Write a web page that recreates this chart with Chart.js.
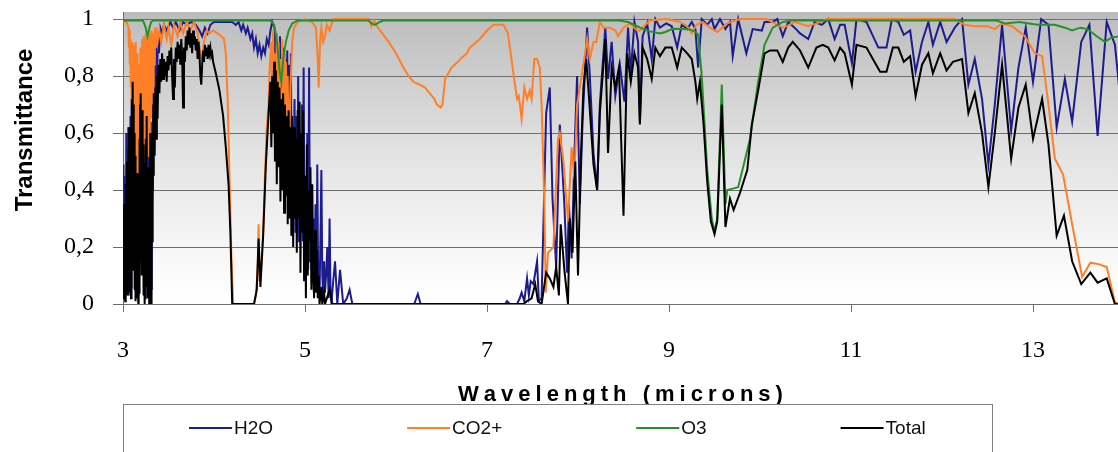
<!DOCTYPE html>
<html>
<head>
<meta charset="utf-8">
<script src="https://cdn.jsdelivr.net/npm/chart.js@4.4.0/dist/chart.umd.min.js"></script>
<style>
  html, body { margin: 0; padding: 0; background: #fff; }
  #wrap { width: 1118px; height: 452px; position: relative; }
</style>
</head>
<body>
<div id="wrap"><canvas id="myChart"></canvas></div>
<script>
// Data (wavelength in microns, transmittance 0..1)

var h2oWl = [
  3.000,3.004,3.008,3.012,3.018,3.024,3.030,3.036,3.042,3.048,
  3.054,3.058,3.064,3.070,3.076,3.082,3.088,3.094,3.100,3.106,
  3.112,3.118,3.124,3.130,3.136,3.142,3.148,3.154,3.160,3.166,
  3.172,3.178,3.184,3.190,3.196,3.202,3.208,3.214,3.220,3.226,
  3.232,3.238,3.244,3.250,3.256,3.262,3.268,3.274,3.280,3.286,
  3.292,3.298,3.304,3.310,3.316,3.322,3.328,3.334,3.340,3.346,
  3.355,3.365,3.375,3.385,3.395,
  3.41,3.43,3.45,3.48,3.52,3.55,3.58,3.62,3.66,3.70,
  3.75,3.80,3.84,3.87,3.90,3.93,3.96,4.00,4.10,4.20,
  4.24,4.27,4.30,4.32,4.35,4.37,4.40,4.42,4.44,4.46,
  4.48,4.50,4.52,4.54,4.56,4.58,4.60,4.62,4.64,
  4.665,4.675,4.685,4.695,4.705,4.715,4.725,4.735,4.745,4.755,
  4.765,4.775,4.785,4.795,4.805,4.815,4.825,4.835,4.845,4.855,
  4.865,4.875,4.885,4.895,4.905,4.915,4.925,4.935,4.945,4.955,
  4.965,4.975,4.985,4.995,5.005,5.015,5.025,5.035,5.045,5.055,
  5.065,5.075,5.085,5.095,5.105,5.115,5.125,5.135,5.145,5.16,
  5.17,5.18,5.19,5.20,5.21,5.22,5.235,5.245,5.26,5.27,
  5.28,5.29,
  5.31,5.33,5.355,5.385,5.42,5.46,5.49,5.52,6.20,6.24,
  6.27,7.20,7.22,
  7.25,7.33,7.36,7.38,7.41,7.44,7.46,7.48,7.51,7.55,
  7.57,7.60,7.65,7.69,7.72,7.76,7.80,7.85,7.88,7.90,
  7.93,7.96,7.99,8.02,8.05,8.10,8.13,8.17,8.21,8.24,
  8.30,8.33,8.37,8.41,8.46,8.51,8.55,8.58,8.62,8.66,
  8.68,8.71,8.76,8.81,8.85,8.90,8.97,9.03,9.09,9.14,
  9.20,9.25,9.29,9.32,9.36,9.42,9.47,9.50,9.56,9.62,
  9.67,9.70,9.76,9.85,9.92,10.02,10.05,10.14,10.19,10.25,
  10.31,10.38,10.44,10.53,10.60,10.68,10.75,10.82,10.88,10.93,
  11.01,11.06,11.17,11.30,11.39,11.45,11.52,11.58,11.65,11.71,
  11.78,11.85,11.90,11.98,12.05,12.14,12.22,12.29,12.36,12.44,
  12.51,12.58,12.66,12.76,12.84,12.92,13.00,13.09,13.17,13.26,
  13.35,13.43,13.53,13.62,13.71,13.81,13.90,13.95
];
var h2oT = [
  0.05,0.49,0.04,0.38,0.02,0.45,0.08,0.60,0.05,0.52,
  0.10,0.62,0.03,0.55,0.12,0.66,0.06,0.72,0.22,0.76,
  0.15,0.84,0.30,0.80,0.05,0.62,0.02,0.50,0.10,0.45,
  0.03,0.66,0.20,0.78,0.35,0.72,0.12,0.70,0.20,0.60,
  0.05,0.62,0.02,0.64,0.18,0.70,0.08,0.55,0.12,0.48,
  0.02,0.64,0.20,0.50,0.05,0.60,0.40,0.75,0.55,0.85,
  0.65,0.90,0.80,0.94,0.88,
  0.97,0.95,0.98,0.96,0.99,0.97,0.99,0.96,0.99,0.98,
  0.99,0.98,0.96,0.94,0.97,0.95,0.98,0.99,0.99,0.99,
  0.98,0.99,0.96,0.98,0.95,0.97,0.93,0.95,0.90,0.93,
  0.88,0.91,0.87,0.90,0.88,0.93,0.91,0.96,0.99,
  0.97,0.75,0.95,0.62,0.90,0.58,0.94,0.48,0.88,0.60,
  0.90,0.45,0.86,0.56,0.89,0.38,0.84,0.35,0.88,0.30,
  0.60,0.41,0.72,0.25,0.66,0.30,0.80,0.22,0.55,0.30,
  0.70,0.22,0.83,0.17,0.45,0.10,0.60,0.12,0.83,0.15,
  0.38,0.08,0.12,0.30,0.04,0.35,0.05,0.49,0.08,0.02,
  0.25,0.47,0.10,0.03,0.15,0.04,0.12,0.20,0.02,0.30,
  0.05,0.00,
  0.08,0.15,0.00,0.12,0.00,0.02,0.05,0.00,0.00,0.035,
  0.00,0.00,0.01,
  0.00,0.00,0.02,0.04,0.01,0.09,0.03,0.08,0.07,0.15,
  0.01,0.02,0.67,0.76,0.37,0.13,0.63,0.35,0.11,0.35,
  0.16,0.52,0.80,0.35,0.64,0.97,0.80,0.53,0.40,0.70,
  0.97,0.79,0.92,0.73,0.84,0.71,0.97,0.81,0.99,0.92,
  0.64,0.94,0.985,0.86,1.0,0.97,0.985,0.975,0.90,0.98,
  0.965,0.99,0.965,0.83,1.0,0.98,1.0,0.965,1.0,0.965,
  0.99,0.87,1.0,0.88,0.965,0.96,0.99,0.99,1.0,0.94,
  0.99,0.97,0.95,0.93,0.99,0.98,1.0,0.93,0.98,0.98,
  0.845,1.0,0.99,0.90,0.90,1.0,0.99,0.945,0.96,0.815,
  0.92,0.99,0.91,0.99,0.92,0.97,1.0,0.77,0.86,0.72,
  0.49,0.70,0.98,0.61,0.83,0.97,0.78,1.0,0.98,0.62,
  0.79,0.64,0.92,0.98,0.59,0.99,0.91,0.75
];

var co2Wl = [
  3.00,3.04,3.060,3.065,3.070,3.075,3.080,3.085,3.090,3.095,
  3.100,3.105,3.110,3.115,3.120,3.125,3.130,3.135,3.140,3.145,
  3.150,3.155,3.160,3.165,3.170,3.175,3.180,3.185,3.190,3.195,
  3.200,3.205,3.210,3.215,3.220,3.225,3.230,3.235,3.240,3.245,
  3.250,3.255,3.260,3.265,3.270,3.275,3.280,3.285,3.290,3.295,
  3.300,3.305,3.310,3.315,3.320,3.325,3.330,3.335,3.340,3.345,
  3.350,3.360,3.370,3.380,
  3.40,3.42,3.45,3.48,3.50,3.53,
  3.56,3.60,3.63,3.66,3.70,3.74,3.78,3.82,3.85,3.87,
  3.89,3.92,3.95,3.99,4.04,4.08,4.11,4.13,4.15,4.17,
  4.19,4.21,4.44,4.46,4.48,4.49,4.50,4.52,4.54,4.56,
  4.58,4.60,4.61,4.63,4.64,4.65,4.66,4.67,4.68,4.69,
  4.70,4.71,4.72,4.73,4.74,4.75,4.76,4.77,4.78,4.79,
  4.80,4.81,4.82,4.83,4.84,4.86,4.88,4.92,5.00,5.08,
  5.12,5.14,5.15,5.165,5.18,5.20,5.22,5.24,5.27,5.31,
  5.70,5.73,5.76,5.80,5.85,5.93,6.00,6.08,6.14,6.19,
  6.26,6.32,6.37,6.42,6.45,6.49,6.51,6.54,6.61,6.68,
  6.74,6.78,6.81,6.85,6.92,7.00,7.07,7.18,7.23,7.29,
  7.33,7.35,7.38,7.41,7.44,7.47,7.49,7.52,7.55,7.58,
  7.60,7.63,7.645,7.67,7.73,7.78,7.80,7.84,7.89,7.93,
  7.96,7.99,8.04,8.08,8.10,8.13,8.17,8.20,8.24,8.28,
  8.35,8.41,8.44,8.50,8.57,8.65,8.68,8.79,8.97,9.12,
  9.20,9.25,9.30,9.37,9.45,9.53,9.64,9.78,10.07,10.16,
  10.25,10.30,10.38,10.53,10.62,10.74,12.14,12.25,12.36,12.50,
  12.58,12.66,12.77,12.91,13.02,13.10,13.17,13.24,13.33,13.43,
  13.54,13.63,13.72,13.81,13.90,13.95
];
var co2T = [
  0.99,0.99,0.97,0.90,0.96,0.84,0.93,0.76,0.90,0.70,
  0.92,0.64,0.88,0.58,0.91,0.52,0.86,0.45,0.92,0.55,
  0.85,0.40,0.88,0.36,0.80,0.30,0.84,0.42,0.90,0.35,
  0.82,0.48,0.93,0.44,0.88,0.55,0.94,0.50,0.86,0.62,
  0.95,0.48,0.90,0.58,0.93,0.52,0.88,0.66,0.95,0.60,
  0.90,0.72,0.96,0.65,0.92,0.78,0.95,0.70,0.90,0.84,
  0.97,0.90,0.97,0.92,
  0.96,0.92,0.98,0.93,0.97,0.91,
  0.98,0.94,0.99,0.95,0.99,0.96,0.99,0.95,0.88,0.86,
  0.92,0.96,0.95,0.96,0.95,0.94,0.93,0.88,0.72,0.45,
  0.18,0.00,0.00,0.03,0.12,0.28,0.08,0.14,0.25,0.45,
  0.62,0.70,0.82,0.92,0.70,0.96,0.62,0.88,0.70,0.95,
  0.64,0.92,0.57,0.86,0.68,0.93,0.60,0.88,0.58,0.85,
  0.64,0.80,0.55,0.60,0.76,0.92,0.97,0.99,1.00,0.99,
  0.97,0.86,0.76,0.92,0.97,0.92,0.94,0.98,0.96,1.00,
  1.00,0.975,0.995,0.97,0.95,0.915,0.88,0.83,0.80,0.78,
  0.77,0.76,0.74,0.72,0.70,0.69,0.70,0.79,0.83,0.85,
  0.87,0.88,0.90,0.91,0.93,0.96,0.98,0.98,0.95,0.81,
  0.72,0.73,0.65,0.76,0.72,0.75,0.72,0.86,0.86,0.83,
  0.70,0.36,0.04,0.18,0.20,0.58,0.60,0.50,0.29,0.55,
  0.44,0.70,0.80,0.885,0.93,0.86,0.92,0.92,0.99,0.97,
  0.97,0.96,0.94,0.97,0.985,0.96,0.96,0.995,1.00,0.99,
  0.975,0.95,0.98,0.99,0.97,0.955,0.985,1.00,1.00,0.985,
  0.97,0.976,0.99,0.975,0.985,1.00,1.00,0.98,0.975,0.975,
  0.965,0.985,0.975,0.94,0.88,0.87,0.70,0.51,0.455,0.28,
  0.095,0.145,0.14,0.13,0.005,0.0
];

var o3Wl = [
  3.00,3.22,3.25,3.27,3.29,3.31,3.33,4.62,4.66,4.69,
  4.72,4.74,4.76,4.79,4.82,4.86,4.92,5.70,5.73,5.77,
  5.82,5.86,8.45,8.55,8.65,8.72,8.79,8.90,8.96,9.04,
  9.15,9.23,9.29,9.32,9.36,9.42,9.47,9.50,9.53,9.58,
  9.62,9.64,9.70,9.76,9.83,9.89,9.97,10.05,10.14,10.25,
  10.35,12.60,12.69,12.85,13.05,13.24,13.35,13.43,13.52,13.60,
  13.70,13.79,13.86,13.95
];
var o3T = [
  0.995,0.995,0.97,0.94,0.97,0.99,0.995,0.995,0.98,0.93,
  0.82,0.78,0.86,0.92,0.96,0.985,0.995,0.995,0.985,0.98,
  0.99,0.995,0.995,0.99,0.975,0.965,0.957,0.95,0.955,0.966,
  0.965,0.964,0.955,0.945,0.80,0.47,0.30,0.255,0.30,0.77,
  0.35,0.40,0.405,0.41,0.50,0.58,0.76,0.91,0.97,0.99,
  0.995,0.995,0.985,0.99,0.98,0.98,0.97,0.96,0.97,0.965,
  0.94,0.92,0.935,0.94
];

var totWl = [
  3.000,3.004,3.008,3.012,3.016,3.020,3.024,3.028,3.032,3.036,
  3.040,3.044,3.048,3.052,3.056,3.060,3.064,3.068,3.072,3.076,
  3.080,3.084,3.088,3.092,3.096,3.100,3.104,3.108,3.112,3.116,
  3.120,3.124,3.128,3.132,3.136,3.140,3.144,3.148,3.152,3.156,
  3.160,3.164,3.168,3.172,3.176,3.180,3.184,3.188,3.192,3.196,
  3.200,3.204,3.208,3.212,3.216,3.220,3.224,3.228,3.232,3.236,
  3.240,3.244,3.248,3.252,3.256,3.260,3.264,3.268,3.272,3.276,
  3.280,3.284,3.288,3.292,3.296,3.300,3.304,3.308,3.312,3.316,
  3.320,3.324,3.328,3.332,3.336,3.340,
  3.348,3.356,3.364,3.372,3.380,3.390,3.400,3.41,3.42,3.43,
  3.44,3.45,3.46,3.47,3.48,3.49,3.50,3.51,3.52,3.53,
  3.54,3.55,3.56,3.57,3.58,3.59,3.60,3.61,3.62,3.63,
  3.64,3.65,3.66,3.67,3.68,3.69,3.70,3.71,3.72,3.73,
  3.74,3.75,3.76,3.77,3.78,3.79,3.80,3.81,3.82,3.83,
  3.84,3.85,3.86,3.87,3.88,3.89,3.90,3.91,3.92,3.93,
  3.94,3.95,3.96,3.97,3.98,3.99,
  4.02,4.06,4.10,4.13,4.16,4.18,4.20,4.44,4.47,4.49,
  4.51,4.54,4.57,
  4.60,4.62,4.63,4.64,4.65,4.66,4.67,4.68,4.69,4.70,
  4.71,4.72,4.73,4.74,4.75,4.76,4.77,4.78,4.79,4.80,
  4.81,4.82,4.83,4.84,4.85,4.86,4.87,4.88,4.89,4.90,
  4.91,4.92,4.93,4.94,4.95,4.96,4.97,4.98,4.99,5.00,
  5.01,5.02,5.03,5.04,5.05,5.06,5.07,5.08,5.09,5.10,
  5.11,5.12,5.13,5.14,5.15,5.16,5.18,5.19,5.21,5.22,
  5.27,5.30,
  7.40,7.44,7.49,7.53,7.56,7.60,7.65,7.69,7.73,7.76,
  7.79,7.81,7.85,7.89,7.91,7.94,7.97,8.00,8.03,8.06,
  8.09,8.12,8.17,8.21,8.24,8.30,8.33,8.37,8.41,8.45,
  8.50,8.54,8.58,8.62,8.66,8.68,8.71,8.76,8.81,8.85,
  8.90,8.96,9.03,9.09,9.14,9.20,9.25,9.29,9.31,9.34,
  9.38,9.42,9.46,9.50,9.53,9.58,9.62,9.67,9.71,9.78,
  9.86,9.91,9.98,10.05,10.11,10.19,10.25,10.31,10.36,10.44,
  10.53,10.62,10.69,10.75,10.82,10.88,10.93,11.01,11.06,11.17,
  11.24,11.32,11.39,11.46,11.52,11.58,11.65,11.71,11.78,11.85,
  11.90,11.98,12.05,12.12,12.22,12.29,12.36,12.44,12.51,12.58,
  12.66,12.76,12.84,12.92,13.00,13.10,13.17,13.26,13.34,13.43,
  13.53,13.63,13.71,13.81,13.90,13.95
];
var totT = [
  0.02,0.28,0.05,0.35,0.10,0.22,0.01,0.42,0.06,0.30,
  0.12,0.50,0.03,0.38,0.08,0.55,0.15,0.62,0.04,0.45,
  0.10,0.35,0.02,0.66,0.20,0.72,0.30,0.78,0.12,0.70,
  0.25,0.60,0.05,0.52,0.01,0.40,0.08,0.30,0.02,0.46,
  0.10,0.28,0.00,0.36,0.04,0.58,0.12,0.70,0.22,0.74,
  0.35,0.62,0.10,0.68,0.18,0.48,0.03,0.56,0.12,0.40,
  0.00,0.32,0.06,0.58,0.15,0.66,0.20,0.42,0.02,0.48,
  0.08,0.30,0.00,0.44,0.10,0.60,0.18,0.40,0.00,0.50,
  0.22,0.64,0.35,0.70,0.45,0.74,
  0.52,0.76,0.58,0.80,0.65,0.84,0.74,0.86,0.78,0.88,
  0.79,0.86,0.80,0.85,0.78,0.87,0.82,0.89,0.84,0.90,
  0.80,0.72,0.86,0.76,0.90,0.85,0.92,0.86,0.91,0.84,
  0.93,0.87,0.69,0.90,0.85,0.94,0.89,0.96,0.91,0.97,
  0.90,0.95,0.88,0.96,0.91,0.94,0.89,0.93,0.86,0.92,
  0.88,0.80,0.77,0.84,0.89,0.85,0.91,0.87,0.90,0.86,
  0.91,0.88,0.90,0.87,0.88,0.85,
  0.81,0.75,0.66,0.55,0.42,0.25,0.00,0.00,0.05,0.23,
  0.06,0.24,0.49,
  0.67,0.78,0.55,0.80,0.60,0.85,0.50,0.82,0.42,0.78,
  0.48,0.76,0.36,0.72,0.40,0.74,0.32,0.70,0.38,0.66,
  0.28,0.68,0.30,0.62,0.24,0.66,0.20,0.62,0.30,0.58,
  0.18,0.68,0.30,0.71,0.11,0.60,0.25,0.68,0.08,0.45,
  0.02,0.56,0.10,0.40,0.22,0.48,0.05,0.42,0.10,0.02,
  0.26,0.04,0.19,0.02,0.10,0.00,0.06,0.00,0.04,0.00,
  0.05,0.00,
  0.00,0.01,0.02,0.07,0.01,0.00,0.11,0.09,0.06,0.13,
  0.03,0.28,0.12,0.00,0.30,0.18,0.50,0.10,0.50,0.76,
  0.86,0.73,0.49,0.40,0.67,0.93,0.53,0.83,0.76,0.83,
  0.31,0.88,0.78,0.88,0.83,0.63,0.90,0.86,0.79,0.90,
  0.87,0.90,0.90,0.83,0.90,0.88,0.86,0.78,0.72,0.78,
  0.63,0.43,0.29,0.245,0.29,0.70,0.27,0.37,0.33,0.39,
  0.47,0.63,0.75,0.88,0.89,0.89,0.85,0.90,0.92,0.89,
  0.83,0.90,0.91,0.90,0.855,0.90,0.88,0.77,0.91,0.90,
  0.86,0.815,0.815,0.90,0.90,0.85,0.87,0.73,0.84,0.88,
  0.81,0.88,0.82,0.85,0.86,0.67,0.74,0.60,0.41,0.60,
  0.84,0.51,0.69,0.77,0.58,0.72,0.56,0.24,0.31,0.15,
  0.07,0.11,0.075,0.09,0.00,0.00
];

var xTicks = [3, 5, 7, 9, 11, 13];
var yTicks = [0, 0.2, 0.4, 0.6, 0.8, 1];
var yTickLabels = ['0', '0,2', '0,4', '0,6', '0,8', '1'];

var seriesNames = ['H2O', 'CO2+', 'O3', 'Total'];
var seriesColors = ['#1c1c8e', '#ff7f27', '#26902a', '#000000'];

function pairs(xs, ys) {
  return xs.map(function(x, i) { return { x: x, y: ys[i] }; });
}

var gridColor = '#6e6e6e';

// background gradient, axis titles and legend box
var decor = {
  id: 'decor',
  beforeDraw: function(chart) {
    var a = chart.chartArea, ctx = chart.ctx;
    var g = ctx.createLinearGradient(0, a.top, 0, a.bottom);
    g.addColorStop(0, '#bcbcbc');
    g.addColorStop(0.5, '#e4e4e4');
    g.addColorStop(0.9, '#fbfbfb');
    g.addColorStop(1, '#ffffff');
    ctx.save();
    ctx.fillStyle = g;
    ctx.fillRect(a.left, a.top, a.right - a.left, a.bottom - a.top);
    ctx.restore();
  },
  afterDraw: function(chart) {
    var a = chart.chartArea, ctx = chart.ctx;
    ctx.save();

    // y title
    ctx.fillStyle = '#000';
    ctx.font = 'bold 24px "Liberation Sans", Arial, sans-serif';
    ctx.textAlign = 'center';
    ctx.textBaseline = 'alphabetic';
    ctx.translate(32, 130);
    ctx.rotate(-Math.PI / 2);
    ctx.fillText('Transmittance', 0, 0);
    ctx.setTransform(1, 0, 0, 1, 0, 0);

    // x title, spaced out letters
    var title = 'Wavelength (microns)';
    var spacing = 5;
    ctx.font = 'bold 22px "Liberation Sans", Arial, sans-serif';
    ctx.textAlign = 'left';
    var total = 0;
    for (var i = 0; i < title.length; i++) total += ctx.measureText(title[i]).width;
    total += spacing * (title.length - 1);
    var tx = (a.left + a.right) / 2 - total / 2;
    for (var j = 0; j < title.length; j++) {
      ctx.fillText(title[j], tx, 401);
      tx += ctx.measureText(title[j]).width + spacing;
    }

    // legend box
    ctx.fillStyle = '#fff';
    ctx.fillRect(a.left + 0.5, 404.5, 869, 60);
    ctx.strokeStyle = '#808080';
    ctx.lineWidth = 1;
    ctx.strokeRect(a.left + 0.5, 404.5, 869, 60);

    // legend items
    var lx = 189, ly = 428;
    ctx.font = '19px "Liberation Sans", Arial, sans-serif';
    ctx.textBaseline = 'middle';
    ctx.fillStyle = '#111';
    chart.data.datasets.forEach(function(ds) {
      ctx.strokeStyle = ds.borderColor;
      ctx.lineWidth = 2;
      ctx.beginPath();
      ctx.moveTo(lx, ly);
      ctx.lineTo(lx + 43, ly);
      ctx.stroke();
      ctx.fillText(ds.label, lx + 45, ly + 1);
      lx += 45 + ctx.measureText(ds.label).width + 134;
    });
    ctx.restore();
  }
};

var ctx = document.getElementById('myChart').getContext('2d');

var chart = new Chart(ctx, {
  type: 'line',
  data: {
    datasets: [
      { label: seriesNames[0], data: pairs(h2oWl, h2oT), borderColor: seriesColors[0], order: 4 },
      { label: seriesNames[1], data: pairs(co2Wl, co2T), borderColor: seriesColors[1], order: 3 },
      { label: seriesNames[2], data: pairs(o3Wl, o3T), borderColor: seriesColors[2], order: 2 },
      { label: seriesNames[3], data: pairs(totWl, totT), borderColor: seriesColors[3], order: 1 }
    ]
  },
  options: {
    responsive: true,
    maintainAspectRatio: false,
    animation: false,
    events: [],
    parsing: false,
    elements: {
      line: { borderWidth: 2, tension: 0, fill: false },
      point: { radius: 0 }
    },
    layout: { padding: { top: 12, left: 0, right: 0, bottom: 0 } },
    plugins: {
      legend: { display: false },
      tooltip: { enabled: false },
      title: { display: false }
    },
    scales: {
      x: {
        type: 'linear',
        min: 3,
        max: 13.934,
        afterBuildTicks: function(s) { s.ticks = xTicks.map(function(v) { return { value: v }; }); },
        afterFit: function(s) { s.height = 148; s.paddingLeft = 0; s.paddingRight = 0; },
        ticks: {
          font: { family: '"Liberation Serif", "Times New Roman", serif', size: 24 },
          color: '#000',
          padding: 24,
          maxRotation: 0,
          autoSkip: false
        },
        grid: { drawOnChartArea: false, color: gridColor, tickLength: 8 },
        border: { color: gridColor }
      },
      y: {
        min: 0,
        max: 1.025,
        afterBuildTicks: function(s) { s.ticks = yTicks.map(function(v) { return { value: v }; }); },
        afterFit: function(s) { s.width = 123; s.paddingTop = 0; s.paddingBottom = 0; },
        ticks: {
          callback: function(v) { return yTickLabels[yTicks.indexOf(v)]; },
          font: { family: '"Liberation Serif", "Times New Roman", serif', size: 24 },
          color: '#000',
          padding: 19
        },
        grid: { color: gridColor, tickLength: 10 },
        border: { color: gridColor }
      }
    }
  },
  plugins: [decor]
});
</script>
</body>
</html>
